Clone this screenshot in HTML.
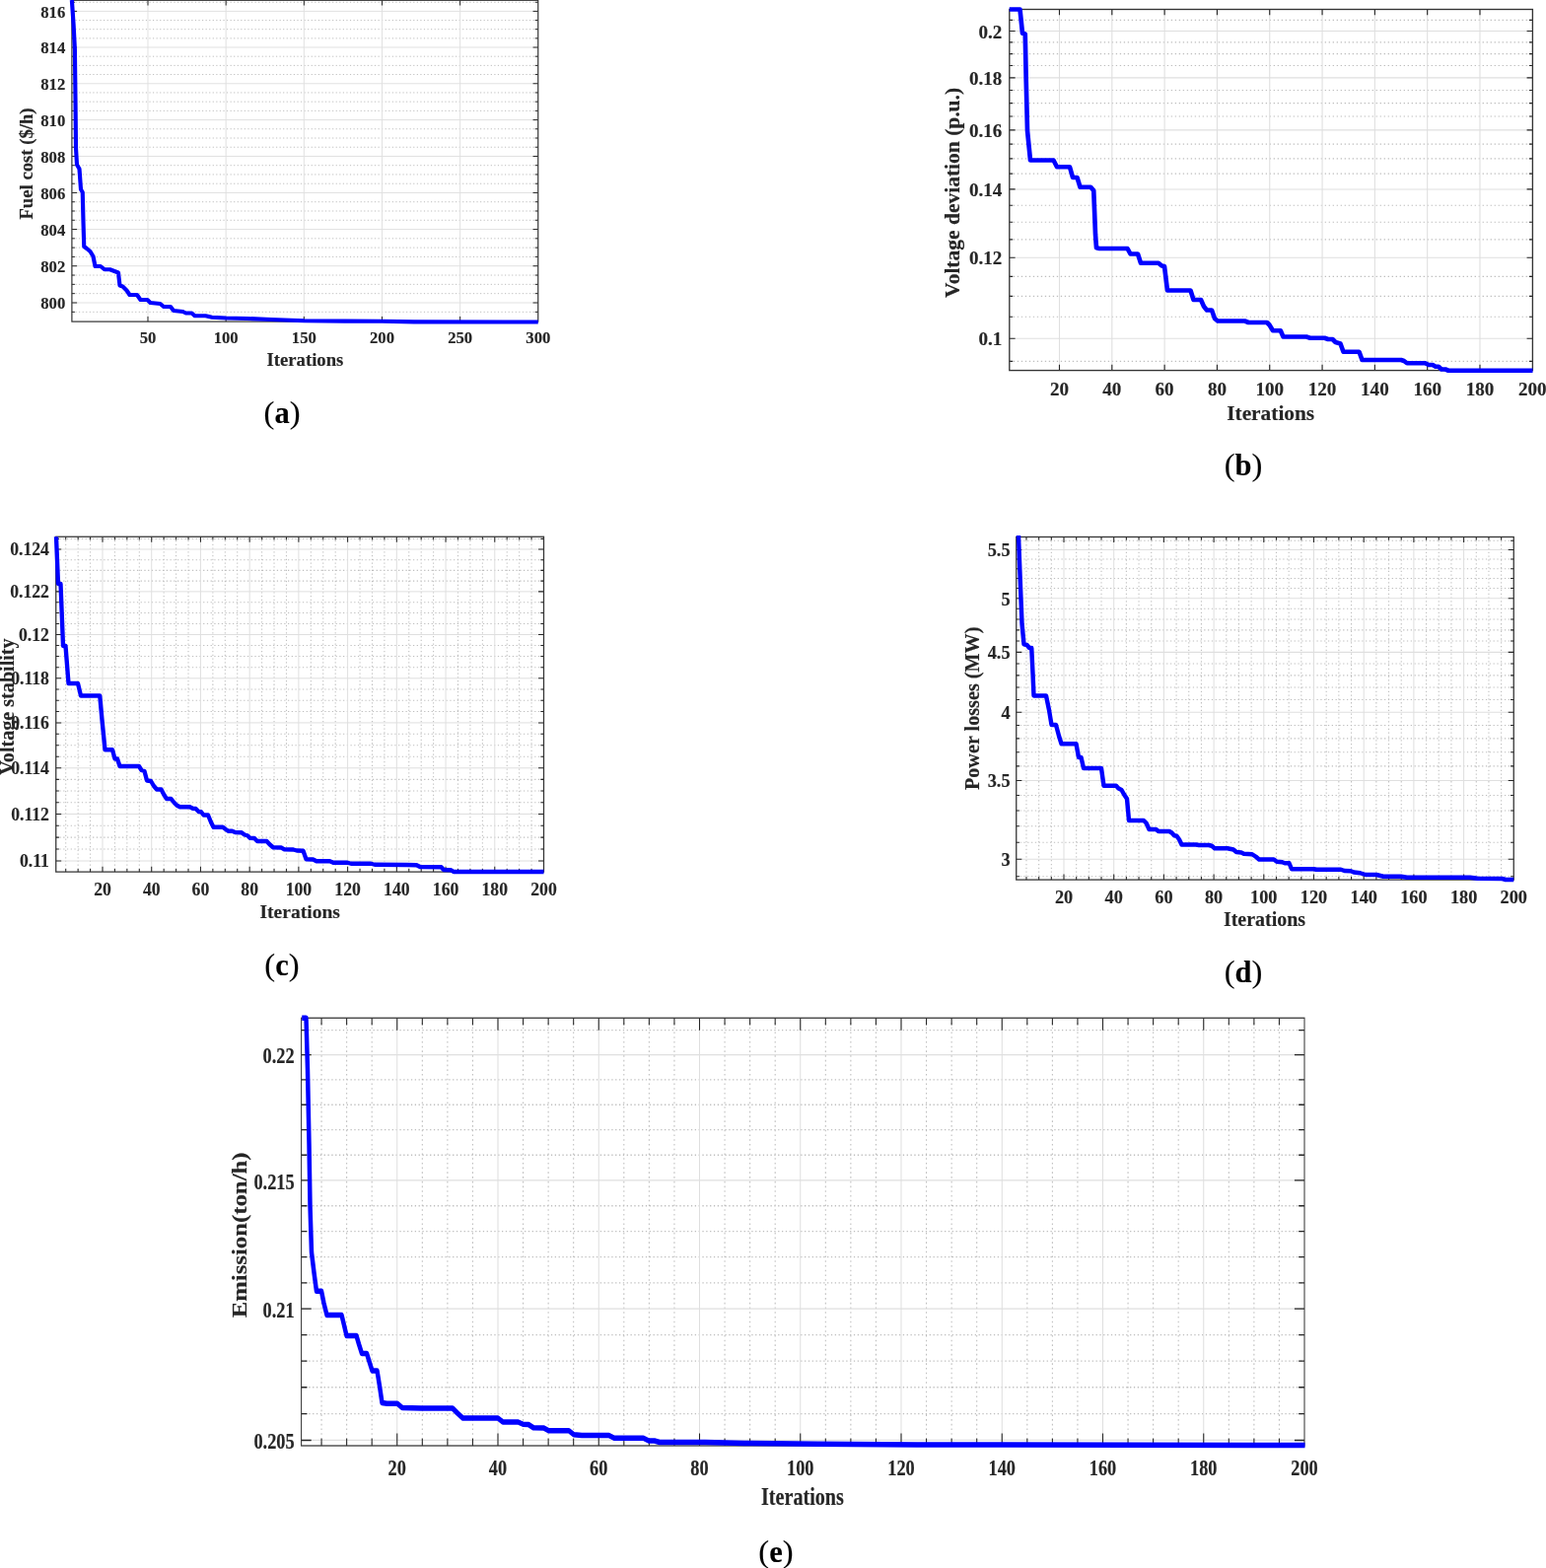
<!DOCTYPE html>
<html lang="en">
<head>
<meta charset="utf-8">
<title>Convergence curves</title>
<style>
html,body{margin:0;padding:0;background:#fff;}
body{width:1568px;height:1590px;overflow:hidden;font-family:"Liberation Serif",serif;}
svg{display:block;}
svg text{font-family:"Liberation Serif",serif;fill:#262626;font-weight:bold;text-anchor:middle;stroke:#262626;stroke-width:0.14px;stroke-linejoin:round;}
svg .tl[text-anchor="end"] text{text-anchor:end;}
svg text.cap{fill:#000;font-weight:normal;stroke:#000;stroke-width:0.12px;}
svg text.cap .b{font-weight:bold;}
.gmaj{stroke:#dfdfdf;stroke-width:0.95;fill:none;}
.gmin{stroke:#bebebe;stroke-width:1;fill:none;stroke-dasharray:1.2 2.37;}
.tick{stroke:#262626;stroke-width:1;fill:none;}
.box{stroke:#333333;fill:none;}
svg rect.box:not([stroke-width]){stroke-width:1.2;}
.curve{stroke:#0000ff;stroke-width:4.15;fill:none;stroke-linejoin:round;stroke-linecap:butt;}
</style>
</head>
<body>
<svg width="1568" height="1590" viewBox="0 0 1568 1590">
<rect x="0" y="0" width="1568" height="1590" fill="#ffffff"/>
<g id="chart-a" transform="scale(1 1)">
<path class="gmin" d="M72.9 316.33H545.75M72.9 297.67H545.75M72.9 288.35H545.75M72.9 279.04H545.75M72.9 260.42H545.75M72.9 251.13H545.75M72.9 241.84H545.75M72.9 223.27H545.75M72.9 213.99H545.75M72.9 204.73H545.75M72.9 186.21H545.75M72.9 176.95H545.75M72.9 167.71H545.75M72.9 149.23H545.75M72.9 140.01H545.75M72.9 130.78H545.75M72.9 112.35H545.75M72.9 103.15H545.75M72.9 93.95H545.75M72.9 75.56H545.75M72.9 66.38H545.75M72.9 57.2H545.75M72.9 38.87H545.75M72.9 29.7H545.75M72.9 20.55H545.75M72.9 2.26H545.75"/>
<path class="gmaj" d="M72.9 307H545.75M72.9 269.73H545.75M72.9 232.55H545.75M72.9 195.46H545.75M72.9 158.47H545.75M72.9 121.57H545.75M72.9 84.75H545.75M72.9 48.03H545.75M72.9 11.4H545.75M150 0.3V326.1M229.16 0.3V326.1M308.32 0.3V326.1M387.48 0.3V326.1M466.64 0.3V326.1"/>
<path class="tick" d="M72.9 307h5.2M545.75 307h-5.2M72.9 269.73h5.2M545.75 269.73h-5.2M72.9 232.55h5.2M545.75 232.55h-5.2M72.9 195.46h5.2M545.75 195.46h-5.2M72.9 158.47h5.2M545.75 158.47h-5.2M72.9 121.57h5.2M545.75 121.57h-5.2M72.9 84.75h5.2M545.75 84.75h-5.2M72.9 48.03h5.2M545.75 48.03h-5.2M72.9 11.4h5.2M545.75 11.4h-5.2M72.9 316.33h3.02M545.75 316.33h-3.02M72.9 297.67h3.02M545.75 297.67h-3.02M72.9 288.35h3.02M545.75 288.35h-3.02M72.9 279.04h3.02M545.75 279.04h-3.02M72.9 260.42h3.02M545.75 260.42h-3.02M72.9 251.13h3.02M545.75 251.13h-3.02M72.9 241.84h3.02M545.75 241.84h-3.02M72.9 223.27h3.02M545.75 223.27h-3.02M72.9 213.99h3.02M545.75 213.99h-3.02M72.9 204.73h3.02M545.75 204.73h-3.02M72.9 186.21h3.02M545.75 186.21h-3.02M72.9 176.95h3.02M545.75 176.95h-3.02M72.9 167.71h3.02M545.75 167.71h-3.02M72.9 149.23h3.02M545.75 149.23h-3.02M72.9 140.01h3.02M545.75 140.01h-3.02M72.9 130.78h3.02M545.75 130.78h-3.02M72.9 112.35h3.02M545.75 112.35h-3.02M72.9 103.15h3.02M545.75 103.15h-3.02M72.9 93.95h3.02M545.75 93.95h-3.02M72.9 75.56h3.02M545.75 75.56h-3.02M72.9 66.38h3.02M545.75 66.38h-3.02M72.9 57.2h3.02M545.75 57.2h-3.02M72.9 38.87h3.02M545.75 38.87h-3.02M72.9 29.7h3.02M545.75 29.7h-3.02M72.9 20.55h3.02M545.75 20.55h-3.02M72.9 2.26h3.02M545.75 2.26h-3.02M150 326.1v-5.2M150 0.3v5.2M229.16 326.1v-5.2M229.16 0.3v5.2M308.32 326.1v-5.2M308.32 0.3v5.2M387.48 326.1v-5.2M387.48 0.3v5.2M466.64 326.1v-5.2M466.64 0.3v5.2"/>
<rect class="box" x="72.9" y="0.3" width="472.85" height="325.8"/>
<polyline class="curve" points="72.88,0 74.6,25 75.9,50 76.5,100 77,150 78,167 80.5,171.25 82,192 83.75,195 84.5,225 85.25,250 88,252 91.5,255 94.5,260 96.5,270 102,270 106,273.25 111.5,273.25 120,276.5 121.5,289.5 124.5,290.5 128.5,294.5 131.5,299 139,299 142.5,304 149.5,304 152.5,307 162.5,308 166,311 173,311 176,315 185.5,316 188.5,317.5 194.5,317.5 197.5,320.25 208.5,320.25 215,321.75 229.25,322.5 250,323 275,324 308.5,325.2 350,325.6 388,325.8 420,326.4 545.75,326.5"/>
<g class="tl">
<text transform="translate(150 348.3) scale(1 1.06)" font-size="16.7">50</text>
<text transform="translate(229.16 348.3) scale(1 1.06)" font-size="16.7">100</text>
<text transform="translate(308.32 348.3) scale(1 1.06)" font-size="16.7">150</text>
<text transform="translate(387.48 348.3) scale(1 1.06)" font-size="16.7">200</text>
<text transform="translate(466.64 348.3) scale(1 1.06)" font-size="16.7">250</text>
<text transform="translate(545.8 348.3) scale(1 1.06)" font-size="16.7">300</text>
</g>
<g class="tl" text-anchor="end">
<text transform="translate(66.3 313.2) scale(1 1.06)" font-size="16.7">800</text>
<text transform="translate(66.3 275.93) scale(1 1.06)" font-size="16.7">802</text>
<text transform="translate(66.3 238.75) scale(1 1.06)" font-size="16.7">804</text>
<text transform="translate(66.3 201.66) scale(1 1.06)" font-size="16.7">806</text>
<text transform="translate(66.3 164.67) scale(1 1.06)" font-size="16.7">808</text>
<text transform="translate(66.3 127.77) scale(1 1.06)" font-size="16.7">810</text>
<text transform="translate(66.3 90.95) scale(1 1.06)" font-size="16.7">812</text>
<text transform="translate(66.3 54.23) scale(1 1.06)" font-size="16.7">814</text>
<text transform="translate(66.3 17.6) scale(1 1.06)" font-size="16.7">816</text>
</g>
<text transform="translate(309.4 370.5)" font-size="18.7">Iterations</text>
<text transform="translate(32.75 166) rotate(-90)" font-size="18.7">Fuel cost ($/h)</text>
</g>
<text class="cap" x="286" y="429.4" font-size="32.6">(<tspan class="b" font-size="30.5">a</tspan>)</text>
<g id="chart-b" transform="scale(1.12 1.12)">
<path class="gmin" d="M914.11 327.07H1387.86M914.11 286.88H1387.86M914.11 268.2H1387.86M914.11 250.35H1387.86M914.11 216.87H1387.86M914.11 201.12H1387.86M914.11 185.96H1387.86M914.11 157.26H1387.86M914.11 143.65H1387.86M914.11 130.48H1387.86M914.11 105.38H1387.86M914.11 93.39H1387.86M914.11 81.75H1387.86M914.11 59.43H1387.86M914.11 48.72H1387.86M914.11 38.29H1387.86M914.11 18.21H1387.86"/>
<path class="gmaj" d="M914.11 306.47H1387.86M914.11 233.26H1387.86M914.11 171.36H1387.86M914.11 117.73H1387.86M914.11 70.43H1387.86M914.11 28.12H1387.86M959.37 8.48V335.36M1006.97 8.48V335.36M1054.57 8.48V335.36M1102.17 8.48V335.36M1149.77 8.48V335.36M1197.37 8.48V335.36M1244.97 8.48V335.36M1292.57 8.48V335.36M1340.17 8.48V335.36"/>
<path class="tick" d="M914.11 306.47h5.2M1387.86 306.47h-5.2M914.11 233.26h5.2M1387.86 233.26h-5.2M914.11 171.36h5.2M1387.86 171.36h-5.2M914.11 117.73h5.2M1387.86 117.73h-5.2M914.11 70.43h5.2M1387.86 70.43h-5.2M914.11 28.12h5.2M1387.86 28.12h-5.2M914.11 327.07h3.02M1387.86 327.07h-3.02M914.11 286.88h3.02M1387.86 286.88h-3.02M914.11 268.2h3.02M1387.86 268.2h-3.02M914.11 250.35h3.02M1387.86 250.35h-3.02M914.11 216.87h3.02M1387.86 216.87h-3.02M914.11 201.12h3.02M1387.86 201.12h-3.02M914.11 185.96h3.02M1387.86 185.96h-3.02M914.11 157.26h3.02M1387.86 157.26h-3.02M914.11 143.65h3.02M1387.86 143.65h-3.02M914.11 130.48h3.02M1387.86 130.48h-3.02M914.11 105.38h3.02M1387.86 105.38h-3.02M914.11 93.39h3.02M1387.86 93.39h-3.02M914.11 81.75h3.02M1387.86 81.75h-3.02M914.11 59.43h3.02M1387.86 59.43h-3.02M914.11 48.72h3.02M1387.86 48.72h-3.02M914.11 38.29h3.02M1387.86 38.29h-3.02M914.11 18.21h3.02M1387.86 18.21h-3.02M959.37 335.36v-5.2M959.37 8.48v5.2M1006.97 335.36v-5.2M1006.97 8.48v5.2M1054.57 335.36v-5.2M1054.57 8.48v5.2M1102.17 335.36v-5.2M1102.17 8.48v5.2M1149.77 335.36v-5.2M1149.77 8.48v5.2M1197.37 335.36v-5.2M1197.37 8.48v5.2M1244.97 335.36v-5.2M1244.97 8.48v5.2M1292.57 335.36v-5.2M1292.57 8.48v5.2M1340.17 335.36v-5.2M1340.17 8.48v5.2"/>
<rect class="box" x="914.11" y="8.48" width="473.75" height="326.88"/>
<polyline class="curve" points="914.06,8.48 923.66,8.48 925.89,30.13 928.35,30.8 929.24,73.66 930.36,118.3 933.04,145.09 954.02,145.09 957.14,151.12 968.75,151.12 971.43,160.71 975.45,160.71 978.12,169.42 987.72,169.42 990.4,172.54 991.96,212.05 992.86,224.33 995.54,225 1020.98,225 1023.66,229.91 1030.36,229.91 1033.04,238.17 1049.11,238.17 1052.01,240.62 1054.46,241.07 1057.14,262.95 1078.12,262.95 1080.8,271.43 1087.5,271.43 1090.18,277.46 1092.86,280.8 1097.32,280.8 1100,288.39 1102.68,290.62 1127.23,290.62 1130.58,291.96 1147.32,291.96 1149.55,294.2 1152.68,299.33 1159.6,299.33 1162.05,304.91 1183.04,304.91 1186.38,306.03 1199.55,306.03 1202.68,307.14 1206.7,307.14 1209.37,309.82 1213.84,311.16 1216.52,318.53 1230.8,318.53 1233.48,325.89 1268.75,325.89 1271.43,326.79 1274.11,328.79 1290.62,328.79 1293.75,330.36 1297.32,330.36 1300,331.92 1302.68,331.92 1305.36,334.37 1308.93,334.37 1311.61,335.49 1387.95,335.49"/>
<g class="tl">
<text transform="translate(959.37 357.68) scale(1.02 1.06)" font-size="16.7">20</text>
<text transform="translate(1006.97 357.68) scale(1.02 1.06)" font-size="16.7">40</text>
<text transform="translate(1054.57 357.68) scale(1.02 1.06)" font-size="16.7">60</text>
<text transform="translate(1102.17 357.68) scale(1.02 1.06)" font-size="16.7">80</text>
<text transform="translate(1149.77 357.68) scale(1.02 1.06)" font-size="16.7">100</text>
<text transform="translate(1197.37 357.68) scale(1.02 1.06)" font-size="16.7">120</text>
<text transform="translate(1244.97 357.68) scale(1.02 1.06)" font-size="16.7">140</text>
<text transform="translate(1292.57 357.68) scale(1.02 1.06)" font-size="16.7">160</text>
<text transform="translate(1340.17 357.68) scale(1.02 1.06)" font-size="16.7">180</text>
<text transform="translate(1387.77 357.68) scale(1.02 1.06)" font-size="16.7">200</text>
</g>
<g class="tl" text-anchor="end">
<text transform="translate(907.41 312.81) scale(1.02 1.06)" font-size="16.7">0.1</text>
<text transform="translate(907.41 239.6) scale(1.02 1.06)" font-size="16.7">0.12</text>
<text transform="translate(907.41 177.69) scale(1.02 1.06)" font-size="16.7">0.14</text>
<text transform="translate(907.41 124.07) scale(1.02 1.06)" font-size="16.7">0.16</text>
<text transform="translate(907.41 76.77) scale(1.02 1.06)" font-size="16.7">0.18</text>
<text transform="translate(907.41 34.46) scale(1.02 1.06)" font-size="16.7">0.2</text>
</g>
<text transform="translate(1150.62 380.09) scale(1.02 1)" font-size="18.7">Iterations</text>
<text transform="translate(868.39 174.46) rotate(-90) scale(1.027 1)" font-size="18.7">Voltage deviation (p.u.)</text>
</g>
<text class="cap" x="1261" y="482" font-size="32.6">(<tspan class="b" font-size="30.5">b</tspan>)</text>
<g id="chart-c" transform="scale(1.046 1.046)">
<path class="gmin" d="M54.25 823.17H527.25M54.25 811.79H527.25M54.25 800.45H527.25M54.25 777.94H527.25M54.25 766.76H527.25M54.25 755.62H527.25M54.25 733.5H527.25M54.25 722.51H527.25M54.25 711.57H527.25M54.25 689.83H527.25M54.25 679.04H527.25M54.25 668.28H527.25M54.25 646.91H527.25M54.25 636.29H527.25M54.25 625.72H527.25M54.25 604.71H527.25M54.25 594.26H527.25M54.25 583.87H527.25M54.25 563.2H527.25M54.25 552.92H527.25M54.25 542.69H527.25M54.25 522.36H527.25M63.77 520.32V845.22M75.66 520.32V845.22M87.54 520.32V845.22M111.31 520.32V845.22M123.19 520.32V845.22M135.08 520.32V845.22M158.85 520.32V845.22M170.73 520.32V845.22M182.61 520.32V845.22M206.38 520.32V845.22M218.27 520.32V845.22M230.15 520.32V845.22M253.92 520.32V845.22M265.8 520.32V845.22M277.68 520.32V845.22M301.45 520.32V845.22M313.34 520.32V845.22M325.22 520.32V845.22M348.99 520.32V845.22M360.87 520.32V845.22M372.76 520.32V845.22M396.52 520.32V845.22M408.41 520.32V845.22M420.29 520.32V845.22M444.06 520.32V845.22M455.94 520.32V845.22M467.83 520.32V845.22M491.59 520.32V845.22M503.48 520.32V845.22M515.36 520.32V845.22"/>
<path class="gmaj" d="M54.25 834.61H527.25M54.25 789.17H527.25M54.25 744.54H527.25M54.25 700.68H527.25M54.25 657.57H527.25M54.25 615.19H527.25M54.25 573.51H527.25M54.25 532.5H527.25M99.43 520.32V845.22M146.96 520.32V845.22M194.5 520.32V845.22M242.03 520.32V845.22M289.57 520.32V845.22M337.1 520.32V845.22M384.64 520.32V845.22M432.18 520.32V845.22M479.71 520.32V845.22"/>
<path class="tick" d="M54.25 834.61h5.2M527.25 834.61h-5.2M54.25 789.17h5.2M527.25 789.17h-5.2M54.25 744.54h5.2M527.25 744.54h-5.2M54.25 700.68h5.2M527.25 700.68h-5.2M54.25 657.57h5.2M527.25 657.57h-5.2M54.25 615.19h5.2M527.25 615.19h-5.2M54.25 573.51h5.2M527.25 573.51h-5.2M54.25 532.5h5.2M527.25 532.5h-5.2M54.25 823.17h3.02M527.25 823.17h-3.02M54.25 811.79h3.02M527.25 811.79h-3.02M54.25 800.45h3.02M527.25 800.45h-3.02M54.25 777.94h3.02M527.25 777.94h-3.02M54.25 766.76h3.02M527.25 766.76h-3.02M54.25 755.62h3.02M527.25 755.62h-3.02M54.25 733.5h3.02M527.25 733.5h-3.02M54.25 722.51h3.02M527.25 722.51h-3.02M54.25 711.57h3.02M527.25 711.57h-3.02M54.25 689.83h3.02M527.25 689.83h-3.02M54.25 679.04h3.02M527.25 679.04h-3.02M54.25 668.28h3.02M527.25 668.28h-3.02M54.25 646.91h3.02M527.25 646.91h-3.02M54.25 636.29h3.02M527.25 636.29h-3.02M54.25 625.72h3.02M527.25 625.72h-3.02M54.25 604.71h3.02M527.25 604.71h-3.02M54.25 594.26h3.02M527.25 594.26h-3.02M54.25 583.87h3.02M527.25 583.87h-3.02M54.25 563.2h3.02M527.25 563.2h-3.02M54.25 552.92h3.02M527.25 552.92h-3.02M54.25 542.69h3.02M527.25 542.69h-3.02M54.25 522.36h3.02M527.25 522.36h-3.02M99.43 845.22v-5.2M99.43 520.32v5.2M146.96 845.22v-5.2M146.96 520.32v5.2M194.5 845.22v-5.2M194.5 520.32v5.2M242.03 845.22v-5.2M242.03 520.32v5.2M289.57 845.22v-5.2M289.57 520.32v5.2M337.1 845.22v-5.2M337.1 520.32v5.2M384.64 845.22v-5.2M384.64 520.32v5.2M432.18 845.22v-5.2M432.18 520.32v5.2M479.71 845.22v-5.2M479.71 520.32v5.2M63.77 845.22v-3.02M63.77 520.32v3.02M75.66 845.22v-3.02M75.66 520.32v3.02M87.54 845.22v-3.02M87.54 520.32v3.02M111.31 845.22v-3.02M111.31 520.32v3.02M123.19 845.22v-3.02M123.19 520.32v3.02M135.08 845.22v-3.02M135.08 520.32v3.02M158.85 845.22v-3.02M158.85 520.32v3.02M170.73 845.22v-3.02M170.73 520.32v3.02M182.61 845.22v-3.02M182.61 520.32v3.02M206.38 845.22v-3.02M206.38 520.32v3.02M218.27 845.22v-3.02M218.27 520.32v3.02M230.15 845.22v-3.02M230.15 520.32v3.02M253.92 845.22v-3.02M253.92 520.32v3.02M265.8 845.22v-3.02M265.8 520.32v3.02M277.68 845.22v-3.02M277.68 520.32v3.02M301.45 845.22v-3.02M301.45 520.32v3.02M313.34 845.22v-3.02M313.34 520.32v3.02M325.22 845.22v-3.02M325.22 520.32v3.02M348.99 845.22v-3.02M348.99 520.32v3.02M360.87 845.22v-3.02M360.87 520.32v3.02M372.76 845.22v-3.02M372.76 520.32v3.02M396.52 845.22v-3.02M396.52 520.32v3.02M408.41 845.22v-3.02M408.41 520.32v3.02M420.29 845.22v-3.02M420.29 520.32v3.02M444.06 845.22v-3.02M444.06 520.32v3.02M455.94 845.22v-3.02M455.94 520.32v3.02M467.83 845.22v-3.02M467.83 520.32v3.02M491.59 845.22v-3.02M491.59 520.32v3.02M503.48 845.22v-3.02M503.48 520.32v3.02M515.36 845.22v-3.02M515.36 520.32v3.02"/>
<rect class="box" x="54.25" y="520.32" width="472.99" height="324.9"/>
<polyline class="curve" points="54.49,520.32 56.41,565.97 58.8,565.97 61.19,626.2 63.58,626.2 66.44,662.52 75.53,662.52 78.39,674.47 96.8,674.47 98.95,697.9 101.82,726.82 108.99,726.82 111.38,735.66 113.77,735.66 116.16,742.83 134.8,742.83 137.19,746.65 140.06,747.61 142.45,756.69 146.27,757.17 149.14,761.95 152.01,765.3 156.31,765.3 159.18,770.79 161.57,774.38 165.87,774.38 168.74,777.96 171.61,780.83 174.47,782.27 184.03,782.27 186.9,783.7 189.77,783.94 192.64,786.81 195.03,787.05 197.42,790.15 201.72,790.15 204.59,797.08 206.98,801.86 216.06,801.86 218.93,804.02 221.32,805.69 225.14,805.69 228.01,806.88 234.23,807.12 237.09,809.27 239.96,809.99 242.35,812.38 246.65,812.62 249.52,815.49 258.6,815.49 261.47,818.59 264.82,821.46 272.47,821.7 275.33,823.37 284.42,823.61 287.76,824.57 293.98,824.81 296.85,832.93 303.54,833.17 306.88,834.85 319.79,834.85 323.14,836.28 337,836.28 340.34,837.24 359.7,837.24 363.29,838.19 394.36,838.43 403.92,838.67 407.27,840.34 427.82,840.58 430.21,843.21 436.9,843.45 439.77,845.12 527.25,845.12"/>
<g class="tl">
<text transform="translate(99.43 867.69) scale(1.013 1.03)" font-size="16.7">20</text>
<text transform="translate(146.96 867.69) scale(1.013 1.03)" font-size="16.7">40</text>
<text transform="translate(194.5 867.69) scale(1.013 1.03)" font-size="16.7">60</text>
<text transform="translate(242.03 867.69) scale(1.013 1.03)" font-size="16.7">80</text>
<text transform="translate(289.57 867.69) scale(1.013 1.03)" font-size="16.7">100</text>
<text transform="translate(337.1 867.69) scale(1.013 1.03)" font-size="16.7">120</text>
<text transform="translate(384.64 867.69) scale(1.013 1.03)" font-size="16.7">140</text>
<text transform="translate(432.18 867.69) scale(1.013 1.03)" font-size="16.7">160</text>
<text transform="translate(479.71 867.69) scale(1.013 1.03)" font-size="16.7">180</text>
<text transform="translate(527.25 867.69) scale(1.013 1.03)" font-size="16.7">200</text>
</g>
<g class="tl" text-anchor="end">
<text transform="translate(47.75 840.54) scale(1.013 1.03)" font-size="16.7">0.11</text>
<text transform="translate(47.75 795.1) scale(1.013 1.03)" font-size="16.7">0.112</text>
<text transform="translate(47.75 750.46) scale(1.013 1.03)" font-size="16.7">0.114</text>
<text transform="translate(47.75 706.61) scale(1.013 1.03)" font-size="16.7">0.116</text>
<text transform="translate(47.75 663.5) scale(1.013 1.03)" font-size="16.7">0.118</text>
<text transform="translate(47.75 621.12) scale(1.013 1.03)" font-size="16.7">0.12</text>
<text transform="translate(47.75 579.44) scale(1.013 1.03)" font-size="16.7">0.122</text>
<text transform="translate(47.75 538.43) scale(1.013 1.03)" font-size="16.7">0.124</text>
</g>
<text transform="translate(290.82 889.96)" font-size="18.7">Iterations</text>
<text transform="translate(13.38 685.09) rotate(-90) scale(1.03 1.03)" font-size="18.7">Voltage stability</text>
</g>
<text class="cap" x="286" y="989" font-size="32.6">(<tspan class="b" font-size="30.5">c</tspan>)</text>
<g id="chart-d" transform="scale(1.067 1.067)">
<path class="gmin" d="M966.03 832.99H1438.85M966.03 800.63H1438.85M966.03 785.23H1438.85M966.03 770.3H1438.85M966.03 755.82H1438.85M966.03 728.09H1438.85M966.03 714.8H1438.85M966.03 701.86H1438.85M966.03 689.26H1438.85M966.03 665H1438.85M966.03 653.31H1438.85M966.03 641.9H1438.85M966.03 630.74H1438.85M966.03 609.18H1438.85M966.03 598.75H1438.85M966.03 588.53H1438.85M966.03 578.53H1438.85M966.03 559.12H1438.85M966.03 549.7H1438.85M966.03 540.46H1438.85M966.03 531.39H1438.85M966.03 513.75H1438.85M975.61 510.31V836.08M987.49 510.31V836.08M999.37 510.31V836.08M1023.13 510.31V836.08M1035 510.31V836.08M1046.88 510.31V836.08M1070.64 510.31V836.08M1082.52 510.31V836.08M1094.4 510.31V836.08M1118.16 510.31V836.08M1130.04 510.31V836.08M1141.92 510.31V836.08M1165.67 510.31V836.08M1177.55 510.31V836.08M1189.43 510.31V836.08M1213.19 510.31V836.08M1225.07 510.31V836.08M1236.95 510.31V836.08M1260.71 510.31V836.08M1272.59 510.31V836.08M1284.47 510.31V836.08M1308.22 510.31V836.08M1320.1 510.31V836.08M1331.98 510.31V836.08M1355.74 510.31V836.08M1367.62 510.31V836.08M1379.5 510.31V836.08M1403.26 510.31V836.08M1415.14 510.31V836.08M1427.01 510.31V836.08"/>
<path class="gmaj" d="M966.03 816.54H1438.85M966.03 741.76H1438.85M966.03 676.98H1438.85M966.03 619.84H1438.85M966.03 568.73H1438.85M966.03 522.49H1438.85M1011.25 510.31V836.08M1058.76 510.31V836.08M1106.28 510.31V836.08M1153.8 510.31V836.08M1201.31 510.31V836.08M1248.83 510.31V836.08M1296.34 510.31V836.08M1343.86 510.31V836.08M1391.38 510.31V836.08"/>
<path class="tick" d="M966.03 816.54h5.2M1438.85 816.54h-5.2M966.03 741.76h5.2M1438.85 741.76h-5.2M966.03 676.98h5.2M1438.85 676.98h-5.2M966.03 619.84h5.2M1438.85 619.84h-5.2M966.03 568.73h5.2M1438.85 568.73h-5.2M966.03 522.49h5.2M1438.85 522.49h-5.2M966.03 832.99h3.02M1438.85 832.99h-3.02M966.03 800.63h3.02M1438.85 800.63h-3.02M966.03 785.23h3.02M1438.85 785.23h-3.02M966.03 770.3h3.02M1438.85 770.3h-3.02M966.03 755.82h3.02M1438.85 755.82h-3.02M966.03 728.09h3.02M1438.85 728.09h-3.02M966.03 714.8h3.02M1438.85 714.8h-3.02M966.03 701.86h3.02M1438.85 701.86h-3.02M966.03 689.26h3.02M1438.85 689.26h-3.02M966.03 665h3.02M1438.85 665h-3.02M966.03 653.31h3.02M1438.85 653.31h-3.02M966.03 641.9h3.02M1438.85 641.9h-3.02M966.03 630.74h3.02M1438.85 630.74h-3.02M966.03 609.18h3.02M1438.85 609.18h-3.02M966.03 598.75h3.02M1438.85 598.75h-3.02M966.03 588.53h3.02M1438.85 588.53h-3.02M966.03 578.53h3.02M1438.85 578.53h-3.02M966.03 559.12h3.02M1438.85 559.12h-3.02M966.03 549.7h3.02M1438.85 549.7h-3.02M966.03 540.46h3.02M1438.85 540.46h-3.02M966.03 531.39h3.02M1438.85 531.39h-3.02M966.03 513.75h3.02M1438.85 513.75h-3.02M1011.25 836.08v-5.2M1011.25 510.31v5.2M1058.76 836.08v-5.2M1058.76 510.31v5.2M1106.28 836.08v-5.2M1106.28 510.31v5.2M1153.8 836.08v-5.2M1153.8 510.31v5.2M1201.31 836.08v-5.2M1201.31 510.31v5.2M1248.83 836.08v-5.2M1248.83 510.31v5.2M1296.34 836.08v-5.2M1296.34 510.31v5.2M1343.86 836.08v-5.2M1343.86 510.31v5.2M1391.38 836.08v-5.2M1391.38 510.31v5.2M975.61 836.08v-3.02M975.61 510.31v3.02M987.49 836.08v-3.02M987.49 510.31v3.02M999.37 836.08v-3.02M999.37 510.31v3.02M1023.13 836.08v-3.02M1023.13 510.31v3.02M1035 836.08v-3.02M1035 510.31v3.02M1046.88 836.08v-3.02M1046.88 510.31v3.02M1070.64 836.08v-3.02M1070.64 510.31v3.02M1082.52 836.08v-3.02M1082.52 510.31v3.02M1094.4 836.08v-3.02M1094.4 510.31v3.02M1118.16 836.08v-3.02M1118.16 510.31v3.02M1130.04 836.08v-3.02M1130.04 510.31v3.02M1141.92 836.08v-3.02M1141.92 510.31v3.02M1165.67 836.08v-3.02M1165.67 510.31v3.02M1177.55 836.08v-3.02M1177.55 510.31v3.02M1189.43 836.08v-3.02M1189.43 510.31v3.02M1213.19 836.08v-3.02M1213.19 510.31v3.02M1225.07 836.08v-3.02M1225.07 510.31v3.02M1236.95 836.08v-3.02M1236.95 510.31v3.02M1260.71 836.08v-3.02M1260.71 510.31v3.02M1272.59 836.08v-3.02M1272.59 510.31v3.02M1284.47 836.08v-3.02M1284.47 510.31v3.02M1308.22 836.08v-3.02M1308.22 510.31v3.02M1320.1 836.08v-3.02M1320.1 510.31v3.02M1331.98 836.08v-3.02M1331.98 510.31v3.02M1355.74 836.08v-3.02M1355.74 510.31v3.02M1367.62 836.08v-3.02M1367.62 510.31v3.02M1379.5 836.08v-3.02M1379.5 510.31v3.02M1403.26 836.08v-3.02M1403.26 510.31v3.02M1415.14 836.08v-3.02M1415.14 510.31v3.02M1427.01 836.08v-3.02M1427.01 510.31v3.02"/>
<rect class="box" x="966.03" y="510.31" width="472.82" height="325.77"/>
<polyline class="curve" points="968.13,508.9 970.01,557.64 971.42,592.78 973.29,612.23 976.1,612.93 978.44,615.75 980.55,615.75 981.72,639.64 982.66,661.2 994.38,661.2 997.19,674.79 999.53,688.85 1003.75,688.85 1006.56,699.39 1008.9,706.89 1022.96,706.89 1025.3,719.78 1027.65,719.78 1029.99,730.08 1046.86,730.08 1049.2,746.72 1060.92,746.72 1063.26,749.3 1066.07,750.7 1068.42,754.92 1071.23,759.14 1073.1,779.76 1087.16,779.76 1089.5,782.1 1092.31,788.19 1098.88,788.19 1101.22,790.07 1111.53,790.07 1113.87,791.47 1116.21,794.05 1118.56,794.52 1120.9,797.8 1123.24,802.72 1136.83,802.72 1139.64,803.19 1149.02,803.19 1151.83,803.89 1154.64,806.23 1166.82,806.23 1172.45,807.4 1175.26,809.75 1179.94,810.22 1182.29,811.39 1190.25,811.86 1193.53,813.96 1196.81,816.78 1210.87,816.78 1213.68,818.88 1218.84,819.35 1221.18,820.29 1225.4,820.29 1227.74,825.91 1248.83,825.91 1251.64,826.38 1248.36,825.91 1251.17,826.38 1274.6,826.38 1277.88,827.55 1283.97,827.79 1286.79,828.96 1292.88,829.66 1298.03,831.3 1308.34,831.3 1314.9,832.94 1331.77,832.94 1337.39,833.88 1397.38,833.88 1404.4,834.82 1427.84,835.05 1431.12,835.99 1438.85,835.99"/>
<g class="tl">
<text transform="translate(1011.25 858.58) scale(1.025 1)" font-size="16.7">20</text>
<text transform="translate(1058.76 858.58) scale(1.025 1)" font-size="16.7">40</text>
<text transform="translate(1106.28 858.58) scale(1.025 1)" font-size="16.7">60</text>
<text transform="translate(1153.8 858.58) scale(1.025 1)" font-size="16.7">80</text>
<text transform="translate(1201.31 858.58) scale(1.025 1)" font-size="16.7">100</text>
<text transform="translate(1248.83 858.58) scale(1.025 1)" font-size="16.7">120</text>
<text transform="translate(1296.34 858.58) scale(1.025 1)" font-size="16.7">140</text>
<text transform="translate(1343.86 858.58) scale(1.025 1)" font-size="16.7">160</text>
<text transform="translate(1391.38 858.58) scale(1.025 1)" font-size="16.7">180</text>
<text transform="translate(1438.89 858.58) scale(1.025 1)" font-size="16.7">200</text>
</g>
<g class="tl" text-anchor="end">
<text transform="translate(960.22 822.82) scale(1.025 1)" font-size="16.7">3</text>
<text transform="translate(960.22 748.04) scale(1.025 1)" font-size="16.7">3.5</text>
<text transform="translate(960.22 683.26) scale(1.025 1)" font-size="16.7">4</text>
<text transform="translate(960.22 626.12) scale(1.025 1)" font-size="16.7">4.5</text>
<text transform="translate(960.22 575.01) scale(1.025 1)" font-size="16.7">5</text>
<text transform="translate(960.22 528.77) scale(1.025 1)" font-size="16.7">5.5</text>
</g>
<text transform="translate(1201.97 879.57)" font-size="18.7">Iterations</text>
<text transform="translate(930.65 673.2) rotate(-90) scale(1.012 1)" font-size="18.7">Power losses (MW)</text>
</g>
<text class="cap" x="1261" y="996" font-size="32.6">(<tspan class="b" font-size="30.5">d</tspan>)</text>
<g id="chart-e" transform="scale(1.075 1.325)">
<path class="gmin" d="M284.28 1081.94H1230.7M284.28 1061.71H1230.7M284.28 1041.59H1230.7M284.28 1021.55H1230.7M284.28 981.78H1230.7M284.28 962.03H1230.7M284.28 942.37H1230.7M284.28 922.81H1230.7M284.28 883.96H1230.7M284.28 864.67H1230.7M284.28 845.46H1230.7M284.28 826.35H1230.7M284.28 788.38H1230.7M303.31 779.06V1106.42M327.09 779.06V1106.42M350.87 779.06V1106.42M398.43 779.06V1106.42M422.21 779.06V1106.42M445.99 779.06V1106.42M493.55 779.06V1106.42M517.33 779.06V1106.42M541.1 779.06V1106.42M588.66 779.06V1106.42M612.44 779.06V1106.42M636.22 779.06V1106.42M683.78 779.06V1106.42M707.56 779.06V1106.42M731.34 779.06V1106.42M778.9 779.06V1106.42M802.67 779.06V1106.42M826.45 779.06V1106.42M874.01 779.06V1106.42M897.79 779.06V1106.42M921.57 779.06V1106.42M969.13 779.06V1106.42M992.91 779.06V1106.42M1016.69 779.06V1106.42M1064.24 779.06V1106.42M1088.02 779.06V1106.42M1111.8 779.06V1106.42M1159.36 779.06V1106.42M1183.14 779.06V1106.42M1206.92 779.06V1106.42"/>
<path class="gmaj" d="M284.28 1102.26H1230.7M284.28 1001.62H1230.7M284.28 903.34H1230.7M284.28 807.32H1230.7M374.65 779.06V1106.42M469.77 779.06V1106.42M564.88 779.06V1106.42M660 779.06V1106.42M755.12 779.06V1106.42M850.23 779.06V1106.42M945.35 779.06V1106.42M1040.47 779.06V1106.42M1135.58 779.06V1106.42"/>
<path class="tick" d="M284.28 1102.26h9.4M1230.7 1102.26h-9.4M284.28 1001.62h9.4M1230.7 1001.62h-9.4M284.28 903.34h9.4M1230.7 903.34h-9.4M284.28 807.32h9.4M1230.7 807.32h-9.4M284.28 1081.94h5.45M1230.7 1081.94h-5.45M284.28 1061.71h5.45M1230.7 1061.71h-5.45M284.28 1041.59h5.45M1230.7 1041.59h-5.45M284.28 1021.55h5.45M1230.7 1021.55h-5.45M284.28 981.78h5.45M1230.7 981.78h-5.45M284.28 962.03h5.45M1230.7 962.03h-5.45M284.28 942.37h5.45M1230.7 942.37h-5.45M284.28 922.81h5.45M1230.7 922.81h-5.45M284.28 883.96h5.45M1230.7 883.96h-5.45M284.28 864.67h5.45M1230.7 864.67h-5.45M284.28 845.46h5.45M1230.7 845.46h-5.45M284.28 826.35h5.45M1230.7 826.35h-5.45M284.28 788.38h5.45M1230.7 788.38h-5.45M374.65 1106.42v-9.4M374.65 779.06v9.4M469.77 1106.42v-9.4M469.77 779.06v9.4M564.88 1106.42v-9.4M564.88 779.06v9.4M660 1106.42v-9.4M660 779.06v9.4M755.12 1106.42v-9.4M755.12 779.06v9.4M850.23 1106.42v-9.4M850.23 779.06v9.4M945.35 1106.42v-9.4M945.35 779.06v9.4M1040.47 1106.42v-9.4M1040.47 779.06v9.4M1135.58 1106.42v-9.4M1135.58 779.06v9.4M303.31 1106.42v-5.45M303.31 779.06v5.45M327.09 1106.42v-5.45M327.09 779.06v5.45M350.87 1106.42v-5.45M350.87 779.06v5.45M398.43 1106.42v-5.45M398.43 779.06v5.45M422.21 1106.42v-5.45M422.21 779.06v5.45M445.99 1106.42v-5.45M445.99 779.06v5.45M493.55 1106.42v-5.45M493.55 779.06v5.45M517.33 1106.42v-5.45M517.33 779.06v5.45M541.1 1106.42v-5.45M541.1 779.06v5.45M588.66 1106.42v-5.45M588.66 779.06v5.45M612.44 1106.42v-5.45M612.44 779.06v5.45M636.22 1106.42v-5.45M636.22 779.06v5.45M683.78 1106.42v-5.45M683.78 779.06v5.45M707.56 1106.42v-5.45M707.56 779.06v5.45M731.34 1106.42v-5.45M731.34 779.06v5.45M778.9 1106.42v-5.45M778.9 779.06v5.45M802.67 1106.42v-5.45M802.67 779.06v5.45M826.45 1106.42v-5.45M826.45 779.06v5.45M874.01 1106.42v-5.45M874.01 779.06v5.45M897.79 1106.42v-5.45M897.79 779.06v5.45M921.57 1106.42v-5.45M921.57 779.06v5.45M969.13 1106.42v-5.45M969.13 779.06v5.45M992.91 1106.42v-5.45M992.91 779.06v5.45M1016.69 1106.42v-5.45M1016.69 779.06v5.45M1064.24 1106.42v-5.45M1064.24 779.06v5.45M1088.02 1106.42v-5.45M1088.02 779.06v5.45M1111.8 1106.42v-5.45M1111.8 779.06v5.45M1159.36 1106.42v-5.45M1159.36 779.06v5.45M1183.14 1106.42v-5.45M1183.14 779.06v5.45M1206.92 1106.42v-5.45M1206.92 779.06v5.45"/>
<rect class="box" stroke-width="0.95" x="284.28" y="779.06" width="946.42" height="327.36"/>
<polyline class="curve" points="284.88,779.06 288.84,779.06 290.23,818.87 291.63,875.47 292.56,922.64 293.95,958.49 296.28,973.96 298.6,988.11 303.26,988.11 305.58,997.36 308.37,1006.42 322.33,1006.42 324.65,1014.15 326.98,1022.26 336.28,1022.26 338.6,1028.68 341.4,1035.85 346.05,1035.85 348.37,1041.89 351.16,1049.06 355.81,1049.06 358.14,1060.75 360.47,1073.58 365.12,1074.15 374.88,1074.15 379.53,1077.36 397.67,1077.74 426.98,1077.74 431.63,1081.51 436.74,1085.28 469.77,1085.28 474.42,1088.3 488.84,1088.3 493.49,1090 498.6,1090.19 503.26,1092.64 513.02,1092.83 517.67,1094.91 536.74,1094.91 541.4,1097.92 548.84,1098.49 574.42,1098.49 579.53,1100.57 606.98,1100.57 612.09,1102.64 617.44,1102.64 622.33,1103.77 665.12,1103.77 702.33,1104.53 772.09,1105.09 865.12,1105.66 1231.16,1106.04"/>
<g class="tl">
<text transform="translate(374.65 1128.91) scale(1.02 1.06)" font-size="16.7">20</text>
<text transform="translate(469.77 1128.91) scale(1.02 1.06)" font-size="16.7">40</text>
<text transform="translate(564.88 1128.91) scale(1.02 1.06)" font-size="16.7">60</text>
<text transform="translate(660 1128.91) scale(1.02 1.06)" font-size="16.7">80</text>
<text transform="translate(755.12 1128.91) scale(1.02 1.06)" font-size="16.7">100</text>
<text transform="translate(850.23 1128.91) scale(1.02 1.06)" font-size="16.7">120</text>
<text transform="translate(945.35 1128.91) scale(1.02 1.06)" font-size="16.7">140</text>
<text transform="translate(1040.47 1128.91) scale(1.02 1.06)" font-size="16.7">160</text>
<text transform="translate(1135.58 1128.91) scale(1.02 1.06)" font-size="16.7">180</text>
<text transform="translate(1230.7 1128.91) scale(1.02 1.06)" font-size="16.7">200</text>
</g>
<g class="tl" text-anchor="end">
<text transform="translate(277.77 1108.91) scale(1.02 1.06)" font-size="16.7">0.205</text>
<text transform="translate(277.77 1008.26) scale(1.02 1.06)" font-size="16.7">0.21</text>
<text transform="translate(277.77 909.98) scale(1.02 1.06)" font-size="16.7">0.215</text>
<text transform="translate(277.77 813.96) scale(1.02 1.06)" font-size="16.7">0.22</text>
</g>
<text transform="translate(757.12 1152)" font-size="18.7">Iterations</text>
<text transform="translate(233.02 945.21) rotate(-90)" font-size="18.7">Emission(ton/h)</text>
</g>
<text class="cap" x="787" y="1584" font-size="32.6">(<tspan class="b" font-size="30.5">e</tspan>)</text>
</svg>
</body>
</html>
